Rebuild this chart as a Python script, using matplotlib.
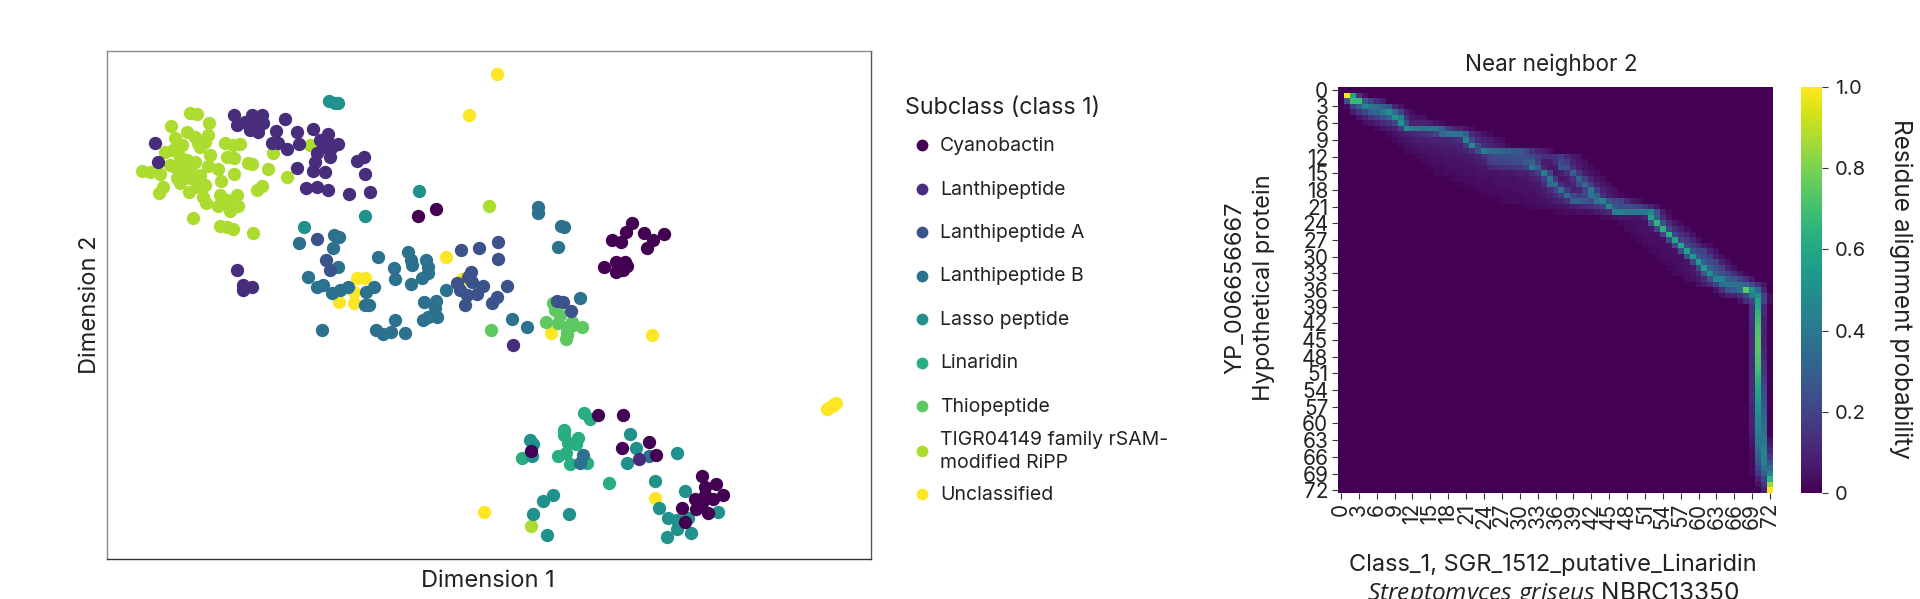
import numpy as np
import matplotlib
matplotlib.use('agg')
import matplotlib.pyplot as plt

plt.rcParams['font.family'] = ['Inter', 'DejaVu Sans']
plt.rcParams['mathtext.fontset'] = 'custom'
plt.rcParams['mathtext.it'] = 'Open Sans:italic'
plt.rcParams['mathtext.rm'] = 'Inter'

W, H = 1920, 599
TEXT = '#222222'

subclasses = ['Cyanobactin', 'Lanthipeptide', 'Lanthipeptide A', 'Lanthipeptide B', 'Lasso peptide',
              'Linaridin', 'Thiopeptide', 'TIGR04149 family rSAM-\nmodified RiPP', 'Unclassified']
subclass_colors = ['#440154', '#472d7b', '#3b528b', '#2c728e', '#21918c', '#28ae80', '#5ec962', '#addc30', '#fde725']

# embedding points (dimension 1, dimension 2)
cyanobactin = [(418, 216), (436, 209), (632, 223), (626, 232), (612, 240), (621, 242), (644, 233), (664, 234),
               (653, 240), (647, 248), (604, 267), (616, 262), (625, 262), (616, 272), (623, 270), (618, 267),
               (627, 266), (598, 415), (623, 415), (531, 451), (649, 442), (622, 448), (656, 455), (702, 476),
               (705, 487), (716, 484), (723, 495), (713, 499), (695, 499), (705, 495), (702, 503), (696, 509),
               (682, 508), (708, 513), (685, 522)]
lanthipeptide = [(155, 143), (158, 162), (234, 115), (237, 125), (245, 122), (252, 115), (262, 115), (250, 130),
                 (258, 132), (263, 123), (253, 123), (285, 119), (276, 131), (272, 143), (278, 143), (287, 149),
                 (297, 132), (299, 144), (313, 129), (328, 134), (320, 140), (325, 145), (338, 144), (317, 153),
                 (330, 157), (315, 162), (297, 168), (313, 171), (325, 172), (357, 161), (364, 157), (365, 174),
                 (306, 188), (317, 187), (328, 190), (349, 194), (370, 192), (237, 270), (243, 285), (243, 290),
                 (252, 287), (323, 147), (327, 140), (332, 147), (513, 345), (639, 459)]
lanthipeptide_a = [(317, 239), (326, 260), (330, 270), (461, 250), (479, 248), (498, 242), (498, 259), (471, 272),
                   (468, 277), (472, 282), (457, 283), (460, 290), (483, 286), (507, 286), (477, 294), (467, 295),
                   (465, 305), (497, 297), (492, 303), (571, 311), (557, 301), (563, 302)]
lanthipeptide_b = [(299, 243), (334, 235), (339, 237), (333, 248), (338, 267), (308, 277), (317, 287), (323, 285),
                   (332, 293), (340, 290), (348, 287), (366, 292), (374, 287), (365, 305), (369, 305), (378, 257),
                   (408, 252), (411, 260), (412, 265), (394, 268), (395, 279), (411, 284), (426, 260), (428, 267),
                   (428, 273), (422, 278), (446, 290), (424, 302), (436, 301), (435, 308), (437, 317), (428, 317),
                   (423, 320), (395, 320), (322, 330), (376, 330), (383, 334), (391, 332), (405, 333), (512, 319),
                   (527, 327), (538, 207), (538, 213), (561, 226), (564, 227), (558, 247), (580, 298), (583, 455),
                   (580, 463), (649, 456)]
lasso_peptide = [(329, 101), (335, 103), (338, 103), (419, 191), (365, 216), (304, 227), (530, 440), (533, 444),
                 (532, 456), (630, 434), (636, 448), (627, 463), (677, 453), (655, 481), (685, 491), (659, 508),
                 (668, 518), (677, 520), (677, 529), (667, 537), (691, 533), (688, 518), (718, 512), (553, 495),
                 (543, 501), (533, 514), (569, 514), (547, 535)]
linaridin = [(584, 413), (590, 419), (564, 430), (564, 435), (578, 438), (568, 443), (576, 444), (522, 458),
             (558, 456), (566, 453), (570, 464), (587, 463), (609, 483)]
thiopeptide = [(491, 330), (546, 322), (553, 303), (555, 310), (560, 315), (558, 323), (572, 322), (582, 327),
               (567, 335), (567, 327), (566, 339), (567, 332), (573, 325)]
tigr04149 = [(190, 113), (197, 114), (171, 126), (209, 123), (187, 132), (195, 137), (208, 135), (205, 142),
             (175, 138), (182, 145), (165, 152), (173, 150), (200, 147), (225, 143), (233, 145), (240, 144),
             (210, 155), (227, 157), (234, 158), (248, 163), (252, 164), (268, 169), (287, 177), (310, 145),
             (273, 153), (142, 171), (150, 172), (160, 174), (170, 165), (178, 165), (187, 160), (195, 162),
             (180, 173), (208, 166), (218, 169), (234, 174), (221, 181), (200, 175), (190, 178), (180, 183),
             (205, 185), (163, 187), (159, 193), (189, 192), (197, 187), (203, 197), (206, 203), (220, 195),
             (237, 195), (223, 203), (238, 206), (230, 211), (218, 206), (262, 186), (257, 190), (193, 218),
             (220, 226), (227, 227), (233, 229), (253, 233), (489, 206), (531, 526), (175, 167), (180, 157),
             (190, 168), (177, 178), (200, 183), (227, 200), (198, 143), (177, 147)]
unclassified = [(497, 74), (469, 115), (446, 257), (357, 278), (365, 278), (354, 292), (354, 303), (339, 302),
                (462, 279), (551, 333), (652, 335), (484, 512), (655, 498), (828, 408), (833, 405), (836, 403),
                (827, 409), (832, 406)]
embedding = [cyanobactin, lanthipeptide, lanthipeptide_a, lanthipeptide_b, lasso_peptide,
             linaridin, thiopeptide, tigr04149, unclassified]

alignment_rows = {
    1: (1, [1.0, .6, .15, .05]),
    2: (1, [.25, .68, .68, .3, .2, .12, .08]),
    3: (1, [.03, .2, .3, .45, .4, .35, .3, .25, .1, .05]),
    4: (2, [.08, .15, .2, .3, .33, .4, .5, .35, .2, .08, .03]),
    5: (3, [.05, .1, .15, .2, .25, .3, .52, .45, .15, .06, .05, .05]),
    6: (4, [.04, .06, .08, .12, .15, .22, .52, .25, .1, .1, .1, .08, .05, .03]),
    7: (6, [.03, .05, .07, .1, .18, .5, .44, .4, .38, .4, .4, .32, .18, .12, .1, .06, .03]),
    8: (8, [.03, .05, .07, .09, .1, .12, .14, .16, .2, .33, .38, .38, .38, .32, .12, .08, .05, .03]),
    9: (9, [.02, .04, .06, .07, .08, .08, .09, .09, .1, .1, .12, .16, .45, .22, .12, .1, .08, .05, .03]),
    10: (10, [.02, .04, .05, .06, .07, .07, .08, .08, .08, .09, .1, .18, .48, .24, .13, .1, .08, .06, .03]),
    11: (11, [.02, .03, .04, .05, .05, .06, .06, .07, .07, .08, .1, .14, .24, .42, .34, .34, .32, .3, .28, .26, .22, .14, .1, .08, .05]),
    12: (13, [.02, .03, .04, .05, .05, .06, .06, .06, .07, .08, .1, .14, .2, .24, .24, .24, .24, .26, .24, .22, .18, .14, .13, .14, .18, .12, .08, .05]),
    13: (14, [.02, .03, .04, .04, .05, .05, .05, .06, .06, .07, .1, .18, .2, .2, .22, .22, .24, .28, .32, .18, .08, .08, .12, .22, .18, .1, .06, .04]),
    14: (15, [.02, .03, .03, .04, .04, .05, .05, .05, .06, .06, .1, .13, .13, .14, .16, .16, .2, .4, .3, .1, .06, .07, .26, .25, .14, .08, .05, .03]),
    15: (16, [.02, .02, .03, .03, .04, .04, .04, .05, .05, .05, .05, .06, .06, .07, .08, .08, .12, .18, .42, .2, .06, .08, .14, .3, .16, .08, .05, .03]),
    16: (18, [.01, .02, .03, .03, .03, .04, .04, .04, .05, .05, .05, .05, .06, .07, .08, .1, .18, .4, .16, .06, .08, .14, .32, .18, .1, .06, .04]),
    17: (20, [.01, .02, .02, .03, .03, .03, .04, .04, .04, .05, .05, .05, .06, .07, .12, .34, .36, .14, .08, .1, .22, .34, .18, .1, .06, .04]),
    18: (22, [.01, .02, .02, .03, .03, .03, .03, .04, .04, .05, .05, .06, .08, .12, .2, .38, .18, .1, .1, .2, .4, .18, .1, .06, .04]),
    19: (24, [.01, .02, .02, .03, .03, .03, .03, .04, .04, .05, .06, .08, .12, .18, .36, .22, .18, .2, .38, .32, .14, .08, .05, .03]),
    20: (26, [.01, .02, .02, .03, .03, .03, .04, .04, .05, .06, .08, .1, .14, .32, .32, .28, .24, .4, .45, .25, .22, .2, .12, .07, .04]),
    21: (30, [.01, .02, .02, .03, .03, .04, .04, .05, .06, .08, .1, .12, .14, .16, .2, .48, .28, .24, .24, .22, .2, .16, .1, .05]),
    22: (36, [.02, .02, .03, .03, .04, .04, .05, .07, .09, .12, .44, .44, .42, .4, .4, .4, .48, .25, .08, .03]),
    23: (44, [.02, .03, .05, .06, .06, .06, .06, .1, .58, .3, .12, .05]),
    24: (47, [.02, .03, .04, .04, .05, .25, .66, .25, .12, .06, .03]),
    25: (48, [.02, .03, .04, .05, .07, .22, .64, .2, .12, .08, .04]),
    26: (49, [.02, .03, .04, .04, .05, .2, .64, .2, .14, .1, .05]),
    27: (50, [.02, .03, .04, .04, .05, .22, .6, .2, .16, .1, .05]),
    28: (51, [.02, .03, .04, .04, .05, .22, .6, .22, .18, .12, .06, .03]),
    29: (52, [.02, .03, .04, .04, .05, .25, .58, .25, .2, .2, .1, .05]),
    30: (53, [.02, .03, .04, .04, .05, .25, .55, .28, .22, .18, .08, .04]),
    31: (54, [.02, .03, .04, .04, .06, .22, .55, .3, .22, .2, .1, .05]),
    32: (55, [.02, .03, .04, .05, .07, .22, .55, .32, .24, .2, .1, .05]),
    33: (56, [.02, .03, .04, .06, .1, .28, .5, .32, .25, .2, .14, .06, .03]),
    34: (58, [.03, .04, .07, .12, .25, .45, .45, .3, .28, .2, .14, .06]),
    35: (60, [.04, .07, .12, .2, .36, .4, .38, .36, .32, .22, .14, .06]),
    36: (63, [.06, .14, .25, .3, .38, .75, .5, .35, .1]),
    37: (64, [.05, .08, .1, .14, .22, .4, .5, .2, .04]),
    38: (67, [.05, .12, .2, .6, .2, .04]),
    39: (69, [.15, .6, .12]), 40: (69, [.15, .65, .12]), 41: (69, [.14, .68, .1]), 42: (69, [.14, .7, .1]),
    43: (69, [.12, .72, .1]), 44: (69, [.12, .72, .1]), 45: (69, [.12, .74, .1]), 46: (69, [.12, .74, .1]),
    47: (69, [.12, .74, .12]), 48: (69, [.12, .72, .12]), 49: (69, [.12, .72, .14]), 50: (69, [.12, .7, .15]),
    51: (69, [.12, .68, .16]), 52: (69, [.12, .65, .18]), 53: (69, [.12, .62, .2]), 54: (69, [.12, .6, .22]),
    55: (69, [.12, .58, .24]), 56: (69, [.12, .55, .26]), 57: (69, [.1, .52, .28]), 58: (69, [.1, .5, .3]),
    59: (69, [.1, .48, .32]), 60: (69, [.1, .46, .34]), 61: (69, [.08, .44, .36]), 62: (69, [.08, .42, .38]),
    63: (69, [.06, .4, .4, .05]), 64: (69, [.05, .38, .42, .08]), 65: (69, [.04, .34, .44, .12]),
    66: (69, [.03, .3, .44, .18]), 67: (69, [.02, .25, .42, .25]), 68: (69, [.02, .2, .38, .35]),
    69: (69, [.02, .16, .3, .45]), 70: (70, [.1, .2, .65]), 71: (70, [.05, .15, .85]), 72: (71, [.1, 1.0]),
}
cbar_ticks = [0, 0.2, 0.4, 0.6, 0.8, 1.0]
cbar_ticklabels = ['0', '0.2', '0.4', '0.6', '0.8', '1.0']


def px_axes(fig, left, top, right, bottom):
    # axes rectangle given in image pixels
    return fig.add_axes([left / W, 1 - bottom / H, (right - left) / W, (bottom - top) / H])


def px_text(fig, x, y, s, **kw):
    kw.setdefault('color', TEXT)
    kw.setdefault('ha', 'center')
    kw.setdefault('va', 'center')
    return fig.text(x / W, 1 - y / H, s, **kw)


fig = plt.figure(figsize=(W / 100, H / 100), dpi=100)

# scatter panel
ax = px_axes(fig, 107, 51, 871, 559)
for points, color in reversed(list(zip(embedding, subclass_colors))):
    xs, ys = zip(*points)
    ax.scatter(xs, ys, s=92, color=color, linewidths=0)
ax.set_xlim(107, 871)
ax.set_ylim(559, 51)
ax.set_xticks([])
ax.set_yticks([])
ax.spines['left'].set_color('#8a8a8a')
ax.spines['top'].set_color('#8a8a8a')
ax.spines['right'].set_color('#555555')
ax.spines['bottom'].set_color('#333333')
for s in ax.spines.values():
    s.set_linewidth(1.0)
px_text(fig, 488, 581, 'Dimension 1', fontsize=17)
px_text(fig, 90, 305, 'Dimension 2', fontsize=17, rotation=90)

# legend
px_text(fig, 905, 108, 'Subclass (class 1)', fontsize=16.8, ha='left')
leg = px_axes(fig, 900, 120, 1260, 520)
leg.set_xlim(900, 1260)
leg.set_ylim(520, 120)
leg.axis('off')
for i, (name, color) in enumerate(zip(subclasses, subclass_colors)):
    y = 145 + i * 43.5
    if i >= 7:
        y += 1
    leg.scatter([922], [y], s=72, color=color, linewidths=0)
    px_text(fig, 940, y + 1, name, fontsize=14, ha='left', linespacing=1.4)

# alignment heatmap
matrix = np.zeros((73, 73))
for row, (first, vals) in alignment_rows.items():
    matrix[row, first:first + len(vals)] = vals

ax2 = px_axes(fig, 1338, 87, 1773, 493)
cax = px_axes(fig, 1801, 87, 1822, 493)
im = ax2.imshow(matrix, cmap='viridis', vmin=0, vmax=1, aspect='auto', interpolation='nearest')
ticks = np.arange(0, 73, 3)
ax2.set_xticks(ticks)
ax2.set_yticks(ticks)
ax2.set_xticklabels(ticks, rotation=90)
ax2.set_yticklabels(ticks)
ax2.tick_params(axis='both', labelsize=15, length=4.5, width=0.8, color='#333333', labelcolor=TEXT, pad=2.5)
for s in ax2.spines.values():
    s.set_visible(False)

cbar = fig.colorbar(im, cax=cax)
cbar.outline.set_visible(False)
cbar.set_ticks(cbar_ticks)
cbar.set_ticklabels(cbar_ticklabels)
cax.tick_params(labelsize=14.5, length=4.5, width=0.8, color='#333333', labelcolor=TEXT, pad=5)

px_text(fig, 1551, 65, 'Near neighbor 2', fontsize=16.2)
px_text(fig, 1553, 565, 'Class_1, SGR_1512_putative_Linaridin', fontsize=17)
px_text(fig, 1553, 594, r'$\mathit{Streptomyces\ griseus}$ NBRC13350', fontsize=17.6)
px_text(fig, 1250, 288, 'YP_006656667\nHypothetical protein', fontsize=17, rotation=90, linespacing=1.35)
px_text(fig, 1901, 289, 'Residue alignment probability', fontsize=17.5, rotation=270)

fig.savefig('out.png', dpi=100)
